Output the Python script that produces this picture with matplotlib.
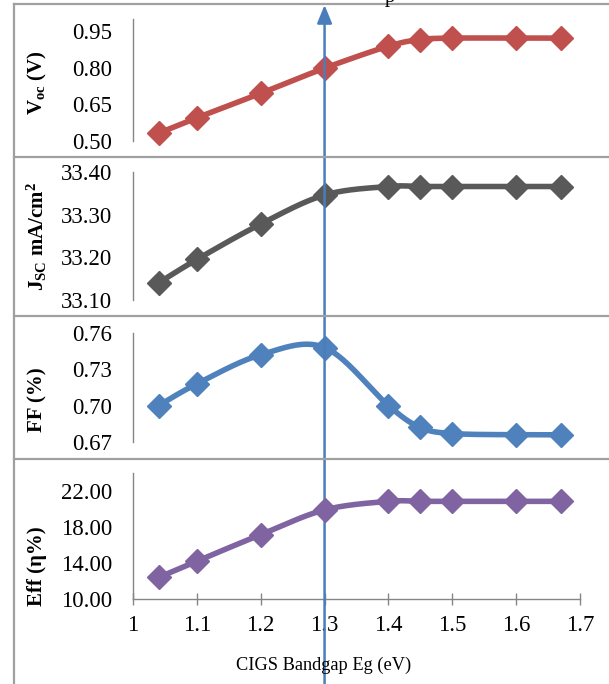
import numpy as np
import matplotlib
matplotlib.use("Agg")
import matplotlib.pyplot as plt
from matplotlib.transforms import blended_transform_factory
from matplotlib.lines import Line2D

plt.rcParams['font.family'] = ['Liberation Serif', 'DejaVu Serif']
plt.rcParams['mathtext.fontset'] = 'custom'
plt.rcParams['mathtext.rm'] = 'Liberation Serif'
plt.rcParams['mathtext.bf'] = 'Liberation Serif:bold'

# CIGS band gap (eV)
bandgap = [1.04, 1.10, 1.20, 1.30, 1.40, 1.45, 1.50, 1.60, 1.67]

# Device parameters
voc = [0.532, 0.595, 0.695, 0.798, 0.888, 0.915, 0.921, 0.921, 0.921]
jsc = [33.140, 33.195, 33.278, 33.346, 33.366, 33.366, 33.366, 33.366, 33.366]
ff = [0.700, 0.718, 0.742, 0.748, 0.700, 0.682, 0.677, 0.676, 0.676]
eff = [12.40, 14.20, 17.15, 19.90, 20.85, 20.85, 20.85, 20.85, 20.85]

x_ticks = [1, 1.1, 1.2, 1.3, 1.4, 1.5, 1.6, 1.7]
x_ticklabels = ["1", "1.1", "1.2", "1.3", "1.4", "1.5", "1.6", "1.7"]
optimum_gap = 1.3

W, H = 609, 684
fig = plt.figure(figsize=(W / 100, H / 100), dpi=100)


def fig_rect(top_px, bottom_px, left_px=133, right_px=580):
    return [left_px / W, (H - bottom_px) / H, (right_px - left_px) / W,
            (bottom_px - top_px) / H]


panels = [
    dict(y=voc, color="#C0504D", rect=fig_rect(18.8, 141), ylim=(0.50, 1.00),
         ticks=[0.50, 0.65, 0.80, 0.95], fmt="{:.2f}",
         label=r"$\mathbf{V_{oc}}$ (V)", label_y=83),
    dict(y=jsc, color="#595959", rect=fig_rect(172, 300), ylim=(33.10, 33.40),
         ticks=[33.10, 33.20, 33.30, 33.40], fmt="{:.2f}",
         label=r"$\mathbf{J_{SC}}$ mA/cm$\mathbf{^2}$", label_y=237),
    dict(y=ff, color="#4F81BD", rect=fig_rect(333, 442), ylim=(0.67, 0.76),
         ticks=[0.67, 0.70, 0.73, 0.76], fmt="{:.2f}",
         label="FF (%)", label_y=400),
    dict(y=eff, color="#8064A2", rect=fig_rect(473, 599), ylim=(10, 24),
         ticks=[10, 14, 18, 22], fmt="{:.2f}",
         label="Eff (η%)", label_y=566),
]


def smooth_curve(ax, xs, ys, n=40, t=1 / 6):
    """Bezier smoothing through the points, computed in screen space."""
    pts = ax.transData.transform(np.column_stack([xs, ys]))
    m = len(pts)
    out = []
    for i in range(m - 1):
        p0 = pts[max(i - 1, 0)]
        p1 = pts[i]
        p2 = pts[i + 1]
        p3 = pts[min(i + 2, m - 1)]
        c1 = p1 + (p2 - p0) * t
        c2 = p2 - (p3 - p1) * t
        s = np.linspace(0, 1, n)[:, None]
        seg = ((1 - s) ** 3) * p1 + 3 * ((1 - s) ** 2) * s * c1 \
            + 3 * (1 - s) * s ** 2 * c2 + s ** 3 * p2
        out.append(seg if i == 0 else seg[1:])
    curve = np.vstack(out)
    return ax.transData.inverted().transform(curve)


axes = []
for p in panels:
    ax = fig.add_axes(p["rect"])
    ax.set_xlim(1.0, 1.7)
    ax.set_ylim(*p["ylim"])
    curve = smooth_curve(ax, bandgap, p["y"])
    ax.plot(curve[:, 0], curve[:, 1], color=p["color"], lw=4.0,
            solid_capstyle="round", zorder=3, clip_on=False)
    ax.plot(bandgap, p["y"], linestyle="none", marker="D", ms=12,
            color=p["color"], zorder=4, clip_on=False)
    ax.set_yticks(p["ticks"])
    ax.set_yticklabels([p["fmt"].format(v) for v in p["ticks"]])
    ax.tick_params(axis="y", length=0, pad=15, labelsize=16.5)
    for side in ("top", "right", "bottom"):
        ax.spines[side].set_visible(False)
    ax.spines["left"].set_color("#868686")
    ax.spines["left"].set_linewidth(1.0)
    ax.patch.set_alpha(0)
    fig.text(37 / W, 1 - p["label_y"] / H, p["label"], rotation=90,
             ha="center", va="center", fontsize=15, fontweight="bold")
    axes.append(ax)

for ax in axes[:-1]:
    ax.set_xticks([])

ax4 = axes[-1]
ax4.spines["bottom"].set_visible(True)
ax4.spines["bottom"].set_color("#868686")
ax4.spines["bottom"].set_linewidth(1.0)
ax4.set_xticks(x_ticks)
ax4.set_xticklabels(x_ticklabels)
ax4.tick_params(axis="x", direction="inout", length=9, width=1.0,
                color="#868686", labelsize=16.5, pad=7)
fig.text(324 / W, 1 - 665 / H, "CIGS Bandgap Eg (eV)", ha="center",
         va="center", fontsize=13.2)

# Chart frames
frame_c = "#A0A0A0"
fig.add_artist(Line2D([14 / W, 14 / W], [0, 1 - 4 / H], transform=fig.transFigure,
                      color=frame_c, lw=1.6))
for yp in (4, 157, 316, 459):
    fig.add_artist(Line2D([14 / W, 1], [1 - yp / H, 1 - yp / H],
                          transform=fig.transFigure, color=frame_c, lw=1.6))

# Title line sitting just above the top edge; only its descender shows
fig.text(390 / W, 1 - 2 / H, "p", ha="center", va="baseline", fontsize=15)

# Marker for the optimum band gap
blend = blended_transform_factory(ax4.transData, fig.transFigure)
ax4.annotate("", xy=(optimum_gap, 1 - 5 / H), xycoords=blend,
             xytext=(optimum_gap, 0), textcoords=blend,
             arrowprops=dict(arrowstyle="-|>,head_length=1.1,head_width=0.45",
                             color="#4A7EBB", lw=1.8, shrinkA=0, shrinkB=0),
             annotation_clip=False)

fig.savefig("out.png", dpi=100)
